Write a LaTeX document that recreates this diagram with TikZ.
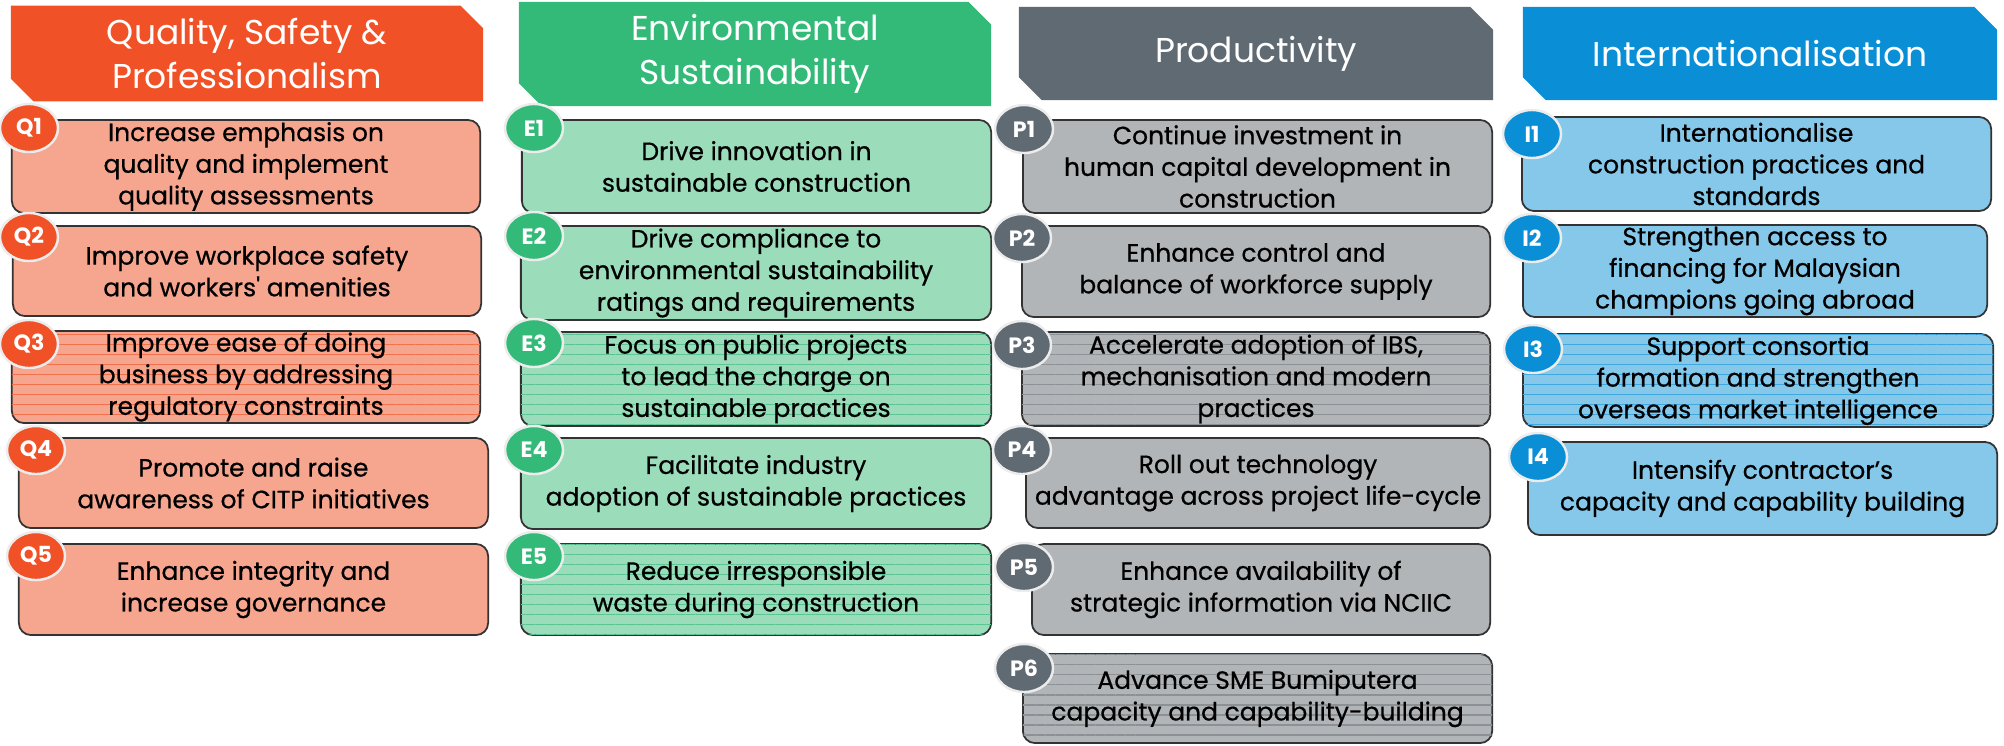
\documentclass[tikz,border=0pt]{standalone}
\usepackage{fontspec}
\setmainfont{Poppins}
\usetikzlibrary{shapes.misc,shapes.geometric,patterns.meta}

\definecolor{qualhead}{HTML}{F05127}
\definecolor{qualfill}{HTML}{F6A58F}
\definecolor{qualline}{HTML}{F0714B}
\definecolor{envhead}{HTML}{34BA78}
\definecolor{envfill}{HTML}{9BDDBB}
\definecolor{envline}{HTML}{5CC493}
\definecolor{prodhead}{HTML}{5F6A72}
\definecolor{prodfill}{HTML}{B2B5B8}
\definecolor{prodline}{HTML}{8C9196}
\definecolor{inthead}{HTML}{0A8FD6}
\definecolor{intfill}{HTML}{86C8EA}
\definecolor{intline}{HTML}{3FA8DE}

\newcommand{\headfont}{\fontsize{9.8}{12.4}\selectfont}
\newcommand{\goalfont}{\addfontfeature{FakeBold=0.6}\fontsize{7.1}{9}\selectfont}
\newcommand{\badgefont}{\fontsize{6.3}{6.5}\selectfont\bfseries}

\tikzset{
  head/.style={chamfered rectangle, chamfered rectangle corners={north east,south west},
    chamfered rectangle xsep=0.1cm, chamfered rectangle angle=45, inner sep=0pt,
    minimum width=4.72cm, minimum height=0.93cm, text=white, font=\headfont, align=center},
  goal/.style={rounded corners=0.12cm, draw=black!80, line width=0.5pt, inner sep=0pt,
    align=center, font=\goalfont},
  badge/.style={ellipse, draw=gray!15, line width=0.7pt, minimum width=0.58cm,
    minimum height=0.48cm, inner sep=0pt, text=white, font=\badgefont},
  lined/.style={postaction={pattern={Lines[angle=0,distance=0.1cm,line width=0.3pt]}, pattern color=#1}},
}

\begin{document}
\begin{tikzpicture}[x=0.01cm, y=-0.01cm]
  \useasboundingbox (0,0) rectangle (2004,745);

  % Headers
  \node[head, fill=qualhead] (hq) at (247,53.5) {Quality, Safety \&\\Professionalism};
  \node[head, fill=envhead] (he) at (755,54) {Environmental\\Sustainability};
  \node[head, fill=prodhead, minimum width=4.74cm] (hp) at (1256,53.5) {Productivity};
  \node[head, fill=inthead, minimum width=4.74cm] (hi) at (1760,53.5) {Internationalisation};

  % Quality column
  \node[goal, fill=qualfill, minimum width=4.68cm, minimum height=0.93cm] (q1) at (246,166.5) {Increase emphasis on\\quality and implement\\quality assessments};
  \node[goal, fill=qualfill, minimum width=4.68cm, minimum height=0.90cm] (q2) at (247,271) {Improve workplace safety\\and workers\textquotesingle\ amenities};
  \node[goal, fill=qualfill, lined=qualline, minimum width=4.68cm, minimum height=0.92cm] (q3) at (246,377) {Improve ease of doing\\business by addressing\\regulatory constraints};
  \node[goal, fill=qualfill, minimum width=4.69cm, minimum height=0.90cm] (q4) at (253.5,483) {Promote and raise\\awareness of CITP initiatives};
  \node[goal, fill=qualfill, minimum width=4.69cm, minimum height=0.91cm] (q5) at (253.5,589.5) {Enhance integrity and\\increase governance};
  \node[badge, fill=qualhead] (bq1) at (29,128) {Q1};
  \node[badge, fill=qualhead] (bq2) at (29,237) {Q2};
  \node[badge, fill=qualhead] (bq3) at (29,344) {Q3};
  \node[badge, fill=qualhead] (bq4) at (36,450) {Q4};
  \node[badge, fill=qualhead] (bq5) at (36,556) {Q5};

  % Environment column
  \node[goal, fill=envfill, minimum width=4.69cm, minimum height=0.93cm] (e1) at (756.5,166.5) {Drive innovation in\\sustainable construction};
  \node[goal, fill=envfill, minimum width=4.70cm, minimum height=0.94cm] (e2) at (756,273) {Drive compliance to\\environmental sustainability\\ratings and requirements};
  \node[goal, fill=envfill, lined=envline, minimum width=4.70cm, minimum height=0.94cm] (e3) at (756,379) {Focus on public projects\\to lead the charge on\\sustainable practices};
  \node[goal, fill=envfill, minimum width=4.70cm, minimum height=0.91cm] (e4) at (756,483.5) {Facilitate industry\\adoption of sustainable practices};
  \node[goal, fill=envfill, lined=envline, minimum width=4.70cm, minimum height=0.91cm] (e5) at (756,589.5) {Reduce irresponsible\\waste during construction};
  \node[badge, fill=envhead] (be1) at (534,128) {E1};
  \node[badge, fill=envhead] (be2) at (534,236) {E2};
  \node[badge, fill=envhead] (be3) at (534,343) {E3};
  \node[badge, fill=envhead] (be4) at (534,450) {E4};
  \node[badge, fill=envhead] (be5) at (534,556) {E5};

  % Productivity column
  \node[goal, fill=prodfill, minimum width=4.69cm, minimum height=0.93cm] (p1) at (1257.5,166.5) {Continue investment in\\human capital development in\\construction};
  \node[goal, fill=prodfill, minimum width=4.68cm, minimum height=0.91cm] (p2) at (1256,271.5) {Enhance control and\\balance of workforce supply};
  \node[goal, fill=prodfill, lined=prodline, minimum width=4.68cm, minimum height=0.94cm] (p3) at (1256,379) {Accelerate adoption of IBS,\\mechanisation and modern\\practices};
  \node[goal, fill=prodfill, minimum width=4.64cm, minimum height=0.90cm] (p4) at (1258,483) {Roll out technology\\advantage across project life-cycle};
  \node[goal, fill=prodfill, minimum width=4.58cm, minimum height=0.91cm] (p5) at (1261,589.5) {Enhance availability of\\strategic information via NCIIC};
  \node[goal, fill=prodfill, lined=prodline, minimum width=4.69cm, minimum height=0.89cm] (p6) at (1257.5,698.5) {Advance SME Bumiputera\\capacity and capability-building};
  \node[badge, fill=prodhead] (bp1) at (1024,129) {P1};
  \node[badge, fill=prodhead] (bp2) at (1022,238) {P2};
  \node[badge, fill=prodhead] (bp3) at (1022,345) {P3};
  \node[badge, fill=prodhead] (bp4) at (1022,450) {P4};
  \node[badge, fill=prodhead] (bp5) at (1024,567) {P5};
  \node[badge, fill=prodhead] (bp6) at (1024,668) {P6};

  % Internationalisation column
  \node[goal, fill=intfill, minimum width=4.69cm, minimum height=0.94cm] (i1) at (1756.5,164) {Internationalise\\construction practices and\\standards};
  \node[goal, fill=intfill, minimum width=4.64cm, minimum height=0.92cm] (i2) at (1755,271) {Strengthen access to\\financing for Malaysian\\champions going abroad};
  \node[goal, fill=intfill, lined=intline, minimum width=4.70cm, minimum height=0.93cm] (i3) at (1758,380.5) {Support consortia\\formation and strengthen\\overseas market intelligence};
  \node[goal, fill=intfill, minimum width=4.69cm, minimum height=0.93cm] (i4) at (1762.5,488.5) {Intensify contractor’s\\capacity and capability building};
  \node[badge, fill=inthead] (bi1) at (1532,134) {I1};
  \node[badge, fill=inthead] (bi2) at (1532,238) {I2};
  \node[badge, fill=inthead] (bi3) at (1533,349) {I3};
  \node[badge, fill=inthead] (bi4) at (1538,457) {I4};
\end{tikzpicture}
\end{document}
